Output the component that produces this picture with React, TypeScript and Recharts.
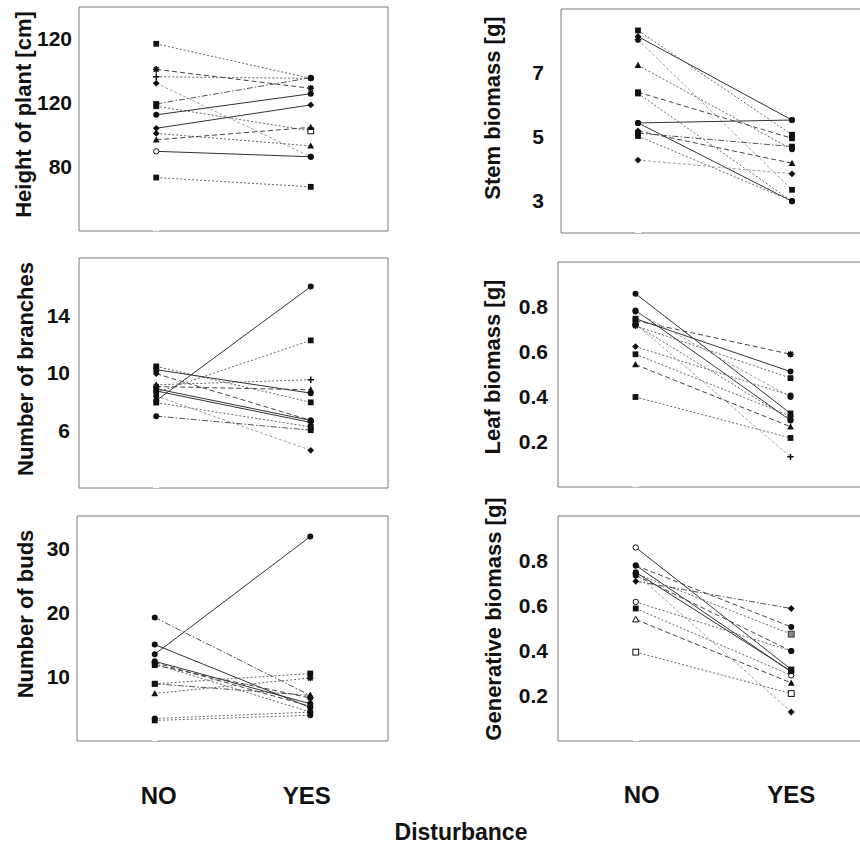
import React from 'react';
import { LineChart, Line, XAxis, YAxis } from 'recharts';

const disturbance = ['NO', 'YES'];
const xTitle = 'Disturbance';

// Panel 1: height of plant
const heightNo = [118.5, 110.5, 108.2, 106.2, 99.7, 99.0, 96.3, 92.1, 90.5, 88.5, 84.9, 76.7];
const heightYes = [107.7, 104.6, 107.7, 83.2, 107.9, 91.3, 102.9, 99.4, 86.6, 92.4, 83.2, 73.8];
const heightNoMarks = ['square', 'star', 'plus', 'diamond', 'square', 'square', 'circle', 'diamond', 'diamond', 'triangle', 'opencircle', 'square'];
const heightYesMarks = ['circle', 'star', 'circle', 'circle', 'circle', 'opensquare', 'circle', 'diamond', 'triangle', 'triangle', 'circle', 'square'];
const heightStyles = ['dotted', 'dashed', 'dotted', 'light', 'dashdot', 'dotted', 'solid', 'solid', 'dotted', 'dashed', 'solid', 'dotted'];
const heightTicks = [80, 100, 120];
const heightTickLabels = ['80', '120', '120'];
const heightMinor = [70, 90, 110];

// Panel 2: stem biomass
const stemNo = [8.14, 8.33, 8.04, 7.24, 6.40, 6.36, 5.44, 5.44, 5.19, 5.12, 5.03, 4.28];
const stemYes = [5.53, 5.07, 3.35, 4.62, 4.96, 2.99, 5.53, 2.99, 4.18, 4.70, 3.00, 3.85];
const stemNoMarks = ['diamond', 'square', 'star', 'triangle', 'square', 'square', 'circle', 'circle', 'diamond', 'square', 'square', 'diamond'];
const stemYesMarks = ['circle', 'square', 'square', 'circle', 'square', 'circle', 'circle', 'circle', 'triangle', 'square', 'circle', 'diamond'];
const stemStyles = ['solid', 'dotted', 'light', 'dotted', 'dashed', 'dotted', 'solid', 'solid', 'dashed', 'dashdot', 'dotted', 'light'];
const stemTicks = [3, 5, 7];
const stemTickLabels = ['3', '5', '7'];
const stemMinor = [4, 6, 8];

// Panel 3: number of branches
const branchNo = [8.08, 8.64, 10.46, 10.23, 9.95, 9.18, 9.06, 8.75, 7.94, 8.40, 7.00, 8.90];
const branchYes = [16.01, 12.27, 7.96, 8.60, 6.70, 9.53, 8.83, 6.56, 6.25, 4.62, 6.02, 6.70];
const branchNoMarks = ['circle', 'circle', 'square', 'square', 'diamond', 'triangle', 'star', 'diamond', 'square', 'circle', 'circle', 'circle'];
const branchYesMarks = ['circle', 'square', 'square', 'circle', 'circle', 'plus', 'triangle', 'diamond', 'square', 'diamond', 'square', 'circle'];
const branchStyles = ['solid', 'dotted', 'dotted', 'solid', 'dashed', 'dotted', 'dashed', 'solid', 'dotted', 'light', 'dashdot', 'solid'];
const branchTicks = [6, 10, 14];
const branchTickLabels = ['6', '10', '14'];
const branchMinor: number[] = [];

// Panel 4: leaf biomass
const leafNo = [0.859, 0.785, 0.748, 0.740, 0.717, 0.725, 0.624, 0.590, 0.544, 0.400, 0.780, 0.720];
const leafYes = [0.327, 0.296, 0.513, 0.590, 0.484, 0.134, 0.407, 0.315, 0.268, 0.218, 0.400, 0.300];
const leafNoMarks = ['circle', 'circle', 'square', 'square', 'star', 'star', 'diamond', 'square', 'triangle', 'square', 'circle', 'star'];
const leafYesMarks = ['square', 'circle', 'circle', 'star', 'square', 'plus', 'circle', 'circle', 'triangle', 'square', 'circle', 'circle'];
const leafStyles = ['solid', 'solid', 'solid', 'dashed', 'dotted', 'light', 'dotted', 'dotted', 'dashed', 'dotted', 'light', 'dotted'];
const leafTicks = [0.2, 0.4, 0.6, 0.8];
const leafTickLabels = ['0.2', '0.4', '0.6', '0.8'];
const leafMinor = [0.1, 0.3, 0.5, 0.7, 0.9];

// Panel 5: number of buds
const budsNo = [13.5, 19.2, 15.0, 12.4, 11.8, 12.0, 8.9, 8.9, 7.4, 3.5, 3.2, 12.2];
const budsYes = [31.8, 7.1, 5.2, 5.8, 6.7, 4.5, 10.5, 7.1, 9.8, 4.5, 4.0, 5.4];
const budsNoMarks = ['circle', 'circle', 'circle', 'circle', 'square', 'square', 'square', 'square', 'triangle', 'circle', 'square', 'diamond'];
const budsYesMarks = ['circle', 'triangle', 'circle', 'circle', 'circle', 'circle', 'square', 'triangle', 'star', 'circle', 'circle', 'circle'];
const budsStyles = ['solid', 'dashdot', 'solid', 'solid', 'dashed', 'dotted', 'dotted', 'dashdot', 'dotted', 'dotted', 'dotted', 'dashed'];
const budsTicks = [10, 20, 30];
const budsTickLabels = ['10', '20', '30'];
const budsMinor = [5, 15, 25];

// Panel 6: generative biomass
const genNo = [0.860, 0.780, 0.780, 0.744, 0.744, 0.710, 0.618, 0.589, 0.540, 0.395, 0.736, 0.750];
const genYes = [0.318, 0.307, 0.507, 0.475, 0.129, 0.589, 0.400, 0.292, 0.258, 0.211, 0.400, 0.310];
const genNoMarks = ['opencircle', 'circle', 'circle', 'circle', 'circle', 'diamond', 'opencircle', 'square', 'opentriangle', 'opensquare', 'circle', 'circle'];
const genYesMarks = ['square', 'circle', 'circle', 'graysquare', 'diamond', 'diamond', 'circle', 'opencircle', 'triangle', 'opensquare', 'circle', 'square'];
const genStyles = ['solid', 'solid', 'dashed', 'dotted', 'light', 'dashdot', 'dotted', 'dotted', 'dashed', 'dotted', 'dashed', 'solid'];
const genTicks = [0.2, 0.4, 0.6, 0.8];
const genTickLabels = ['0.2', '0.4', '0.6', '0.8'];
const genMinor = [0.1, 0.3, 0.5, 0.7, 0.9];

const FONT = "'Liberation Sans', Arial, Helvetica, sans-serif";

const LINE_STYLE: Record<string, { color: string; dash?: string }> = {
  solid: { color: '#333333' },
  dashed: { color: '#444444', dash: '5 3' },
  dotted: { color: '#666666', dash: '2 2' },
  dashdot: { color: '#555555', dash: '6 2 1.5 2' },
  light: { color: '#a0a0a0', dash: '3 2' },
};

function Marker({ cx, cy, shape }: { cx?: number; cy?: number; shape: string }) {
  if (cx == null || cy == null || isNaN(cx) || isNaN(cy)) return <g />;
  const c = '#111';
  switch (shape) {
    case 'circle':
      return <circle cx={cx} cy={cy} r={3} fill={c} />;
    case 'opencircle':
      return <circle cx={cx} cy={cy} r={2.7} fill="#fff" stroke={c} strokeWidth={1} />;
    case 'square':
      return <rect x={cx - 2.9} y={cy - 2.9} width={5.8} height={5.8} fill={c} />;
    case 'opensquare':
      return <rect x={cx - 2.9} y={cy - 2.9} width={5.8} height={5.8} fill="#fff" stroke={c} strokeWidth={1} />;
    case 'graysquare':
      return <rect x={cx - 2.9} y={cy - 2.9} width={5.8} height={5.8} fill="#8a8a8a" stroke="#333" strokeWidth={1} />;
    case 'diamond':
      return <polygon points={`${cx},${cy - 3.4} ${cx + 3.4},${cy} ${cx},${cy + 3.4} ${cx - 3.4},${cy}`} fill={c} />;
    case 'triangle':
      return <polygon points={`${cx},${cy - 3.5} ${cx + 3.4},${cy + 2.7} ${cx - 3.4},${cy + 2.7}`} fill={c} />;
    case 'opentriangle':
      return <polygon points={`${cx},${cy - 3.2} ${cx + 3.1},${cy + 2.4} ${cx - 3.1},${cy + 2.4}`} fill="#fff" stroke={c} strokeWidth={1} />;
    case 'star':
      return (
        <path
          d={`M${cx - 3.3},${cy} H${cx + 3.3} M${cx},${cy - 3.3} V${cy + 3.3} M${cx - 2.4},${cy - 2.4} L${cx + 2.4},${cy + 2.4} M${cx - 2.4},${cy + 2.4} L${cx + 2.4},${cy - 2.4}`}
          stroke={c}
          strokeWidth={1.5}
          fill="none"
        />
      );
    case 'plus':
      return <path d={`M${cx - 3.2},${cy} H${cx + 3.2} M${cx},${cy - 3.2} V${cy + 3.2}`} stroke={c} strokeWidth={1.5} fill="none" />;
    default:
      return <circle cx={cx} cy={cy} r={2.8} fill={c} />;
  }
}

type PanelSpec = {
  title: string;
  no: number[];
  yes: number[];
  noMarks: string[];
  yesMarks: string[];
  styles: string[];
  ticks: number[];
  tickLabels: string[];
  minor: number[];
  domain: [number, number];
  box: { x: number; y: number; w: number; h: number; lx: number; ly: number; gap: number };
};

const panels: PanelSpec[] = [
  { title: 'Height of plant [cm]', no: heightNo, yes: heightYes, noMarks: heightNoMarks, yesMarks: heightYesMarks, styles: heightStyles, ticks: heightTicks, tickLabels: heightTickLabels, minor: heightMinor, domain: [60, 130], box: { x: 79, y: 7, w: 309, h: 224, lx: 23, ly: 114.5, gap: 7 } },
  { title: 'Stem biomass [g]', no: stemNo, yes: stemYes, noMarks: stemNoMarks, yesMarks: stemYesMarks, styles: stemStyles, ticks: stemTicks, tickLabels: stemTickLabels, minor: stemMinor, domain: [2, 9], box: { x: 561, y: 9, w: 308, h: 224, lx: 492, ly: 108, gap: 17 } },
  { title: 'Number of branches', no: branchNo, yes: branchYes, noMarks: branchNoMarks, yesMarks: branchYesMarks, styles: branchStyles, ticks: branchTicks, tickLabels: branchTickLabels, minor: branchMinor, domain: [2, 18], box: { x: 79, y: 258, w: 309, h: 230, lx: 25, ly: 369, gap: 9 } },
  { title: 'Leaf biomass [g]', no: leafNo, yes: leafYes, noMarks: leafNoMarks, yesMarks: leafYesMarks, styles: leafStyles, ticks: leafTicks, tickLabels: leafTickLabels, minor: leafMinor, domain: [0, 1], box: { x: 558, y: 262, w: 310, h: 225, lx: 492, ly: 367, gap: 10 } },
  { title: 'Number of buds', no: budsNo, yes: budsYes, noMarks: budsNoMarks, yesMarks: budsYesMarks, styles: budsStyles, ticks: budsTicks, tickLabels: budsTickLabels, minor: budsMinor, domain: [0, 35], box: { x: 77, y: 516, w: 311, h: 225, lx: 25, ly: 614, gap: 7 } },
  { title: 'Generative biomass [g]', no: genNo, yes: genYes, noMarks: genNoMarks, yesMarks: genYesMarks, styles: genStyles, ticks: genTicks, tickLabels: genTickLabels, minor: genMinor, domain: [0, 1], box: { x: 558, y: 516, w: 311, h: 225, lx: 493, ly: 619, gap: 10 } },
];

const EXT_L = 90;
const EXT_T = 24;
const EXT_R = 10;
const EXT_B = 10;
const BOX = '#7a7a7a';

function Panel({ p }: { p: PanelSpec }) {
  const b = p.box;
  const W = b.w + EXT_L + EXT_R;
  const H = b.h + EXT_T + EXT_B;
  const left = b.x - EXT_L;
  const top = b.y - EXT_T;
  const allTicks = [...p.ticks, ...p.minor].sort((a, c) => a - c);
  const labelX = b.lx - left;
  const labelY = b.ly - top;
  const fmt = (v: number) => {
    const i = p.ticks.findIndex((t) => Math.abs(t - v) < 1e-9);
    return i >= 0 ? p.tickLabels[i] : '';
  };
  return (
    <div style={{ position: 'absolute', left, top, width: W, height: H }}>
      <LineChart width={W} height={H} margin={{ top: EXT_T, right: EXT_R, bottom: EXT_B, left: 0 }} style={{ overflow: 'visible' }}>
        <XAxis xAxisId="b" type="number" dataKey="x" domain={[-0.5, 1.5]} ticks={[0, 1]} allowDataOverflow orientation="bottom" mirror tick={false} tickSize={4} stroke={BOX} />
        <XAxis xAxisId="t" type="number" dataKey="x" domain={[-0.5, 1.5]} ticks={[0, 1]} allowDataOverflow orientation="top" mirror tick={false} tickSize={4} stroke={BOX} />
        <YAxis
          yAxisId="l"
          type="number"
          domain={p.domain}
          allowDataOverflow
          ticks={p.ticks}
          orientation="left"
          width={EXT_L}
          tickLine={false}
          axisLine={false}
          tickSize={0}
          tickMargin={b.gap}
          tickFormatter={fmt}
          tick={{ fontSize: 21, fontWeight: 700, fill: '#111', fontFamily: FONT }}
          label={(lp: any) => (
            <text
              x={labelX}
              y={labelY}
              transform={`rotate(-90, ${labelX}, ${labelY})`}
              textAnchor="middle"
              dominantBaseline="central"
              fontSize={22}
              fontWeight={700}
              fill="#111"
              fontFamily={FONT}
            >
              {p.title}
            </text>
          )}
        />
        <YAxis yAxisId="lm" type="number" domain={p.domain} allowDataOverflow ticks={allTicks} orientation="left" mirror tick={false} tickSize={3} stroke={BOX} />
        <YAxis yAxisId="r" type="number" domain={p.domain} allowDataOverflow ticks={allTicks} orientation="right" mirror tick={false} tickSize={3} stroke={BOX} />
        {p.no.map((v, i) => {
          const data = disturbance.map((d, j) => ({ x: j, cat: d, y: j === 0 ? p.no[i] : p.yes[i] }));
          const st = LINE_STYLE[p.styles[i]] || LINE_STYLE.solid;
          return (
            <Line
              key={`s${i}`}
              xAxisId="b"
              yAxisId="l"
              data={data}
              dataKey="y"
              type="linear"
              stroke={st.color}
              strokeWidth={1}
              strokeDasharray={st.dash}
              isAnimationActive={false}
              activeDot={false}
              dot={(dp: any) => (
                <Marker key={`d${i}-${dp.index}`} cx={dp.cx} cy={dp.cy} shape={dp.index === 0 ? p.noMarks[i] : p.yesMarks[i]} />
              )}
            />
          );
        })}
        <Line xAxisId="t" yAxisId="lm" data={[{ x: 0, y: p.domain[0] }]} dataKey="y" stroke="none" dot={false} activeDot={false} isAnimationActive={false} />
        <Line xAxisId="t" yAxisId="r" data={[{ x: 0, y: p.domain[0] }]} dataKey="y" stroke="none" dot={false} activeDot={false} isAnimationActive={false} />
      </LineChart>
    </div>
  );
}

const bottomLabelPos = [
  { x: 158.7, y: 804 },
  { x: 306.7, y: 804 },
  { x: 641.7, y: 803 },
  { x: 791.3, y: 802.5 },
];

export default function App() {
  const bottomLabels = [...disturbance, ...disturbance];
  return (
    <div style={{ position: 'absolute', left: 0, top: 0, width: 860, height: 847, overflow: 'hidden', background: '#fff' }}>
      {panels.map((p, i) => (
        <Panel key={i} p={p} />
      ))}
      <svg width={860} height={847} style={{ position: 'absolute', left: 0, top: 0, pointerEvents: 'none' }}>
        {bottomLabels.map((t, i) => (
          <text key={i} x={bottomLabelPos[i].x} y={bottomLabelPos[i].y} textAnchor="middle" fontSize={24} fontWeight={700} fill="#111" fontFamily={FONT}>
            {t}
          </text>
        ))}
        <text x={461} y={840} textAnchor="middle" fontSize={23} fontWeight={700} fill="#111" fontFamily={FONT}>
          {xTitle}
        </text>
      </svg>
    </div>
  );
}
